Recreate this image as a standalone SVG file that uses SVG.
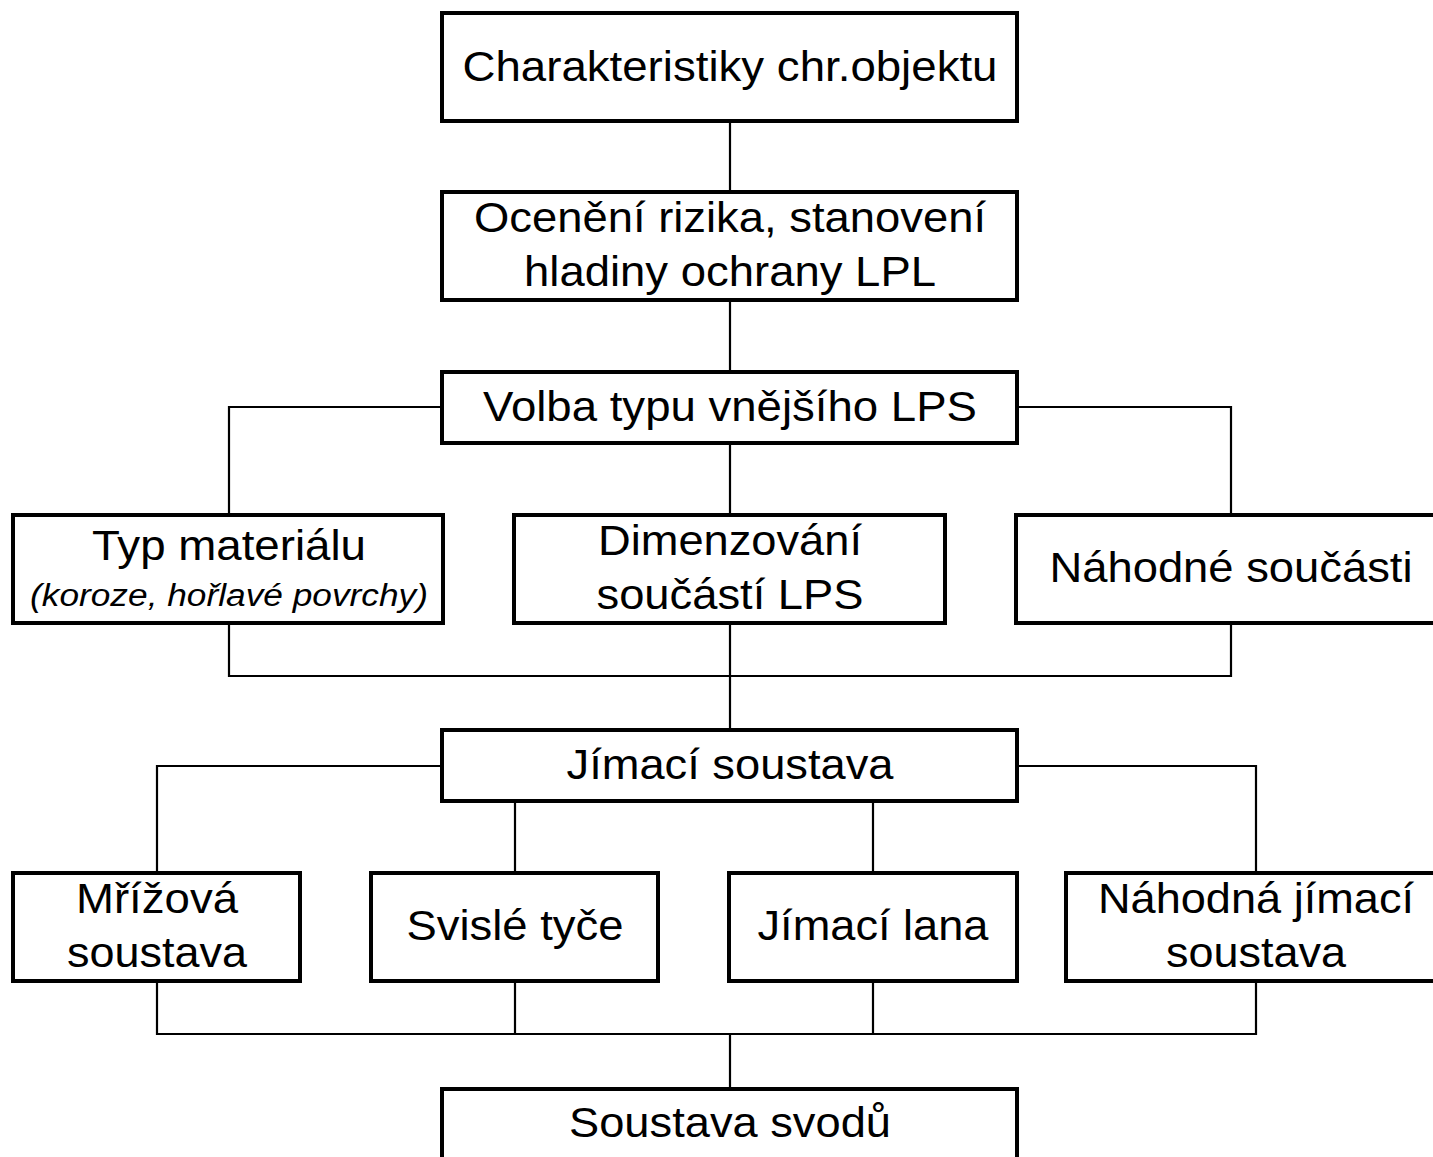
<svg xmlns="http://www.w3.org/2000/svg" width="1433" height="1157" viewBox="0 0 1433 1157">
<style>
.box{fill:#fff;stroke:#000;stroke-width:4}
.ln{fill:none;stroke:#000;stroke-width:2.2}
text{font-family:"Liberation Sans",Arial,sans-serif;font-size:42px;fill:#000;text-anchor:middle}
.it{font-style:italic;font-size:31px}
</style>
<rect width="1433" height="1157" fill="#fff"/>
<g id="connectors">
<path class="ln" d="M730 121V192M730 300V372M730 443V515M442 407H229V515M1017 407H1231V515M229 623V676H1231V623M730 623V730M442 766H157V873M1017 766H1256V873M515 801V873M873 801V873M157 981V1034H1256V981M515 981V1034M873 981V1034M730 1034V1089"/>
</g>
<g id="n1"><rect class="box" x="442" y="13" width="575" height="108"/><text x="730" y="81" textLength="535" lengthAdjust="spacingAndGlyphs">Charakteristiky chr.objektu</text></g>
<g id="n2"><rect class="box" x="442" y="192" width="575" height="108"/><text x="730" y="232" textLength="512" lengthAdjust="spacingAndGlyphs">Ocenění rizika, stanovení</text><text x="730" y="286" textLength="412" lengthAdjust="spacingAndGlyphs">hladiny ochrany LPL</text></g>
<g id="n3"><rect class="box" x="442" y="372" width="575" height="71"/><text x="730" y="421" textLength="494" lengthAdjust="spacingAndGlyphs">Volba typu vnějšího LPS</text></g>
<g id="n4"><rect class="box" x="13" y="515" width="430" height="108"/><text x="229" y="560" textLength="274" lengthAdjust="spacingAndGlyphs">Typ materiálu</text><text class="it" x="229" y="606" textLength="398" lengthAdjust="spacingAndGlyphs">(koroze, hořlavé povrchy)</text></g>
<g id="n5"><rect class="box" x="514" y="515" width="431" height="108"/><text x="730" y="555" textLength="264" lengthAdjust="spacingAndGlyphs">Dimenzování</text><text x="730" y="609" textLength="267" lengthAdjust="spacingAndGlyphs">součástí LPS</text></g>
<g id="n6"><rect class="box" x="1016" y="515" width="430" height="108"/><text x="1231" y="582" textLength="363" lengthAdjust="spacingAndGlyphs">Náhodné součásti</text></g>
<g id="n7"><rect class="box" x="442" y="730" width="575" height="71"/><text x="730" y="779" textLength="327" lengthAdjust="spacingAndGlyphs">Jímací soustava</text></g>
<g id="n8"><rect class="box" x="13" y="873" width="287" height="108"/><text x="157" y="913" textLength="162" lengthAdjust="spacingAndGlyphs">Mřížová</text><text x="157" y="967" textLength="180" lengthAdjust="spacingAndGlyphs">soustava</text></g>
<g id="n9"><rect class="box" x="371" y="873" width="287" height="108"/><text x="515" y="940" textLength="217" lengthAdjust="spacingAndGlyphs">Svislé tyče</text></g>
<g id="n10"><rect class="box" x="729" y="873" width="288" height="108"/><text x="873" y="940" textLength="231" lengthAdjust="spacingAndGlyphs">Jímací lana</text></g>
<g id="n11"><rect class="box" x="1066" y="873" width="380" height="108"/><text x="1256" y="913" textLength="316" lengthAdjust="spacingAndGlyphs">Náhodná jímací</text><text x="1256" y="967" textLength="180" lengthAdjust="spacingAndGlyphs">soustava</text></g>
<g id="n12"><rect class="box" x="442" y="1089" width="575" height="100"/><text x="730" y="1137" textLength="322" lengthAdjust="spacingAndGlyphs">Soustava svodů</text></g>
</svg>
